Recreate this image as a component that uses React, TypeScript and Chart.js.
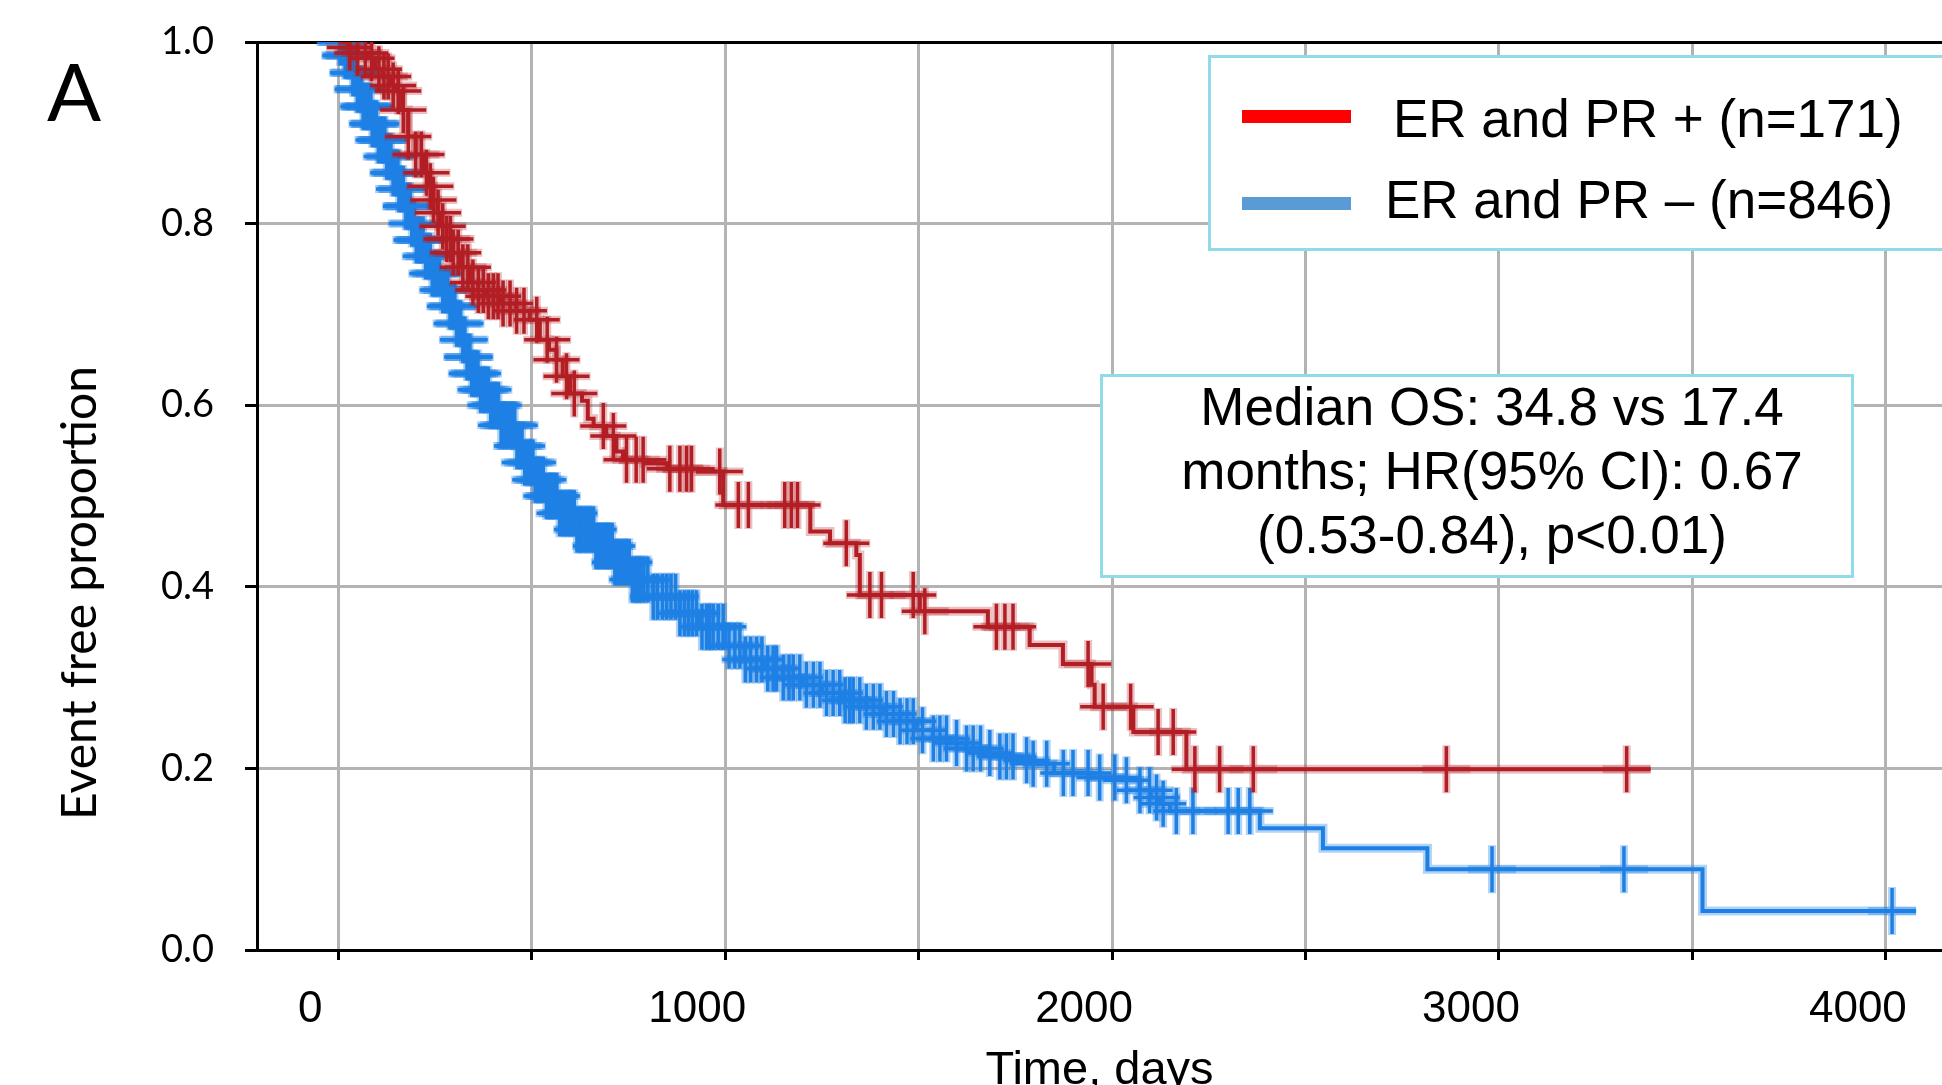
import React, { useEffect, useRef } from "react";
import { Chart, registerables } from "chart.js";

Chart.register(...registerables);

// ---------- Data ----------
// ER and PR + (n=171): Kaplan-Meier steps (day, event free proportion after the step)
const redDays = [0, 25, 50, 75, 95, 115, 135, 150, 165, 181, 200, 220, 235, 246, 256, 263, 280, 297, 318, 340, 362, 383, 420, 460, 495, 521, 545, 564, 580, 599, 630, 645, 660, 693, 719, 736, 790, 850, 930, 995, 1220, 1271, 1339, 1348, 1503, 1679, 1787, 1873, 1947, 1955, 2055, 2192, 3392];
const redSurv = [1.0, 0.994, 0.988, 0.982, 0.97, 0.962, 0.952, 0.946, 0.925, 0.896, 0.876, 0.856, 0.841, 0.826, 0.812, 0.797, 0.783, 0.768, 0.752, 0.735, 0.727, 0.72, 0.712, 0.704, 0.694, 0.672, 0.661, 0.65, 0.632, 0.613, 0.605, 0.585, 0.577, 0.566, 0.549, 0.54, 0.536, 0.53, 0.527, 0.49, 0.461, 0.448, 0.435, 0.391, 0.373, 0.356, 0.336, 0.315, 0.292, 0.268, 0.24, 0.199, 0.199];
// censored times (day)
const redCensorDays = [30, 50, 70, 86, 105, 118, 129, 142, 155, 168, 181, 200, 215, 228, 238, 246, 258, 270, 280, 290, 297, 310, 322, 335, 348, 362, 375, 388, 401, 413, 426, 444, 461, 480, 513, 540, 564, 590, 610, 685, 711, 745, 770, 788, 857, 883, 900, 913, 986, 1034, 1060, 1154, 1171, 1187, 1313, 1374, 1404, 1486, 1516, 1701, 1723, 1744, 1938, 1977, 2048, 2119, 2158, 2214, 2278, 2365, 2864, 3330];

// ER and PR – (n=846)
const blueDays = [0, 15, 35, 50, 65, 85, 103, 122, 142, 157, 172, 187, 202, 220, 241, 265, 289, 305, 319, 332, 345, 368, 390, 420, 457, 480, 504, 535, 569, 615, 663, 710, 758, 814, 883, 935, 1000, 1050, 1100, 1150, 1200, 1250, 1300, 1365, 1410, 1451, 1495, 1537, 1580, 1623, 1670, 1710, 1755, 1796, 1850, 1940, 2028, 2071, 2100, 2123, 2150, 2382, 2545, 2815, 3526, 4078];
const blueSurv = [1.0, 0.985, 0.966, 0.948, 0.929, 0.91, 0.892, 0.874, 0.856, 0.838, 0.819, 0.8, 0.782, 0.764, 0.745, 0.727, 0.709, 0.69, 0.672, 0.653, 0.635, 0.617, 0.6, 0.578, 0.555, 0.537, 0.518, 0.5, 0.481, 0.463, 0.445, 0.427, 0.408, 0.389, 0.371, 0.356, 0.335, 0.32, 0.31, 0.3, 0.292, 0.283, 0.275, 0.268, 0.26, 0.252, 0.242, 0.233, 0.228, 0.222, 0.217, 0.213, 0.209, 0.205, 0.195, 0.19, 0.187, 0.176, 0.168, 0.161, 0.153, 0.134, 0.112, 0.089, 0.043, 0.043];
const blueCensorDays = [5, 10, 14, 18, 21, 26, 30, 33, 38, 42, 45, 50, 53, 56, 60, 65, 68, 70, 75, 80, 84, 88, 92, 95, 98, 104, 109, 113, 117, 120, 125, 131, 136, 142, 146, 151, 154, 157, 163, 168, 175, 178, 181, 186, 190, 196, 202, 207, 210, 214, 219, 226, 231, 238, 243, 249, 255, 262, 270, 276, 283, 289, 293, 297, 301, 306, 311, 316, 322, 327, 333, 337, 340, 345, 350, 355, 361, 368, 374, 381, 388, 394, 401, 408, 414, 421, 428, 435, 442, 450, 456, 462, 468, 475, 482, 490, 497, 503, 509, 515, 522, 530, 538, 545, 551, 558, 565, 572, 580, 588, 596, 603, 610, 617, 623, 630, 638, 645, 652, 660, 666, 672, 680, 688, 694, 700, 708, 715, 722, 730, 738, 745, 752, 760, 768, 775, 782, 790, 800, 814, 825, 838, 849, 860, 872, 883, 895, 905, 915, 926, 940, 952, 960, 969, 982, 995, 1010, 1025, 1038, 1052, 1066, 1081, 1095, 1110, 1124, 1133, 1150, 1165, 1176, 1193, 1210, 1228, 1245, 1262, 1279, 1296, 1310, 1322, 1331, 1348, 1365, 1383, 1400, 1417, 1435, 1452, 1470, 1486, 1510, 1538, 1555, 1572, 1598, 1624, 1641, 1660, 1684, 1710, 1727, 1744, 1779, 1796, 1831, 1874, 1899, 1938, 1968, 2007, 2037, 2072, 2097, 2115, 2132, 2166, 2209, 2300, 2326, 2356, 2982, 3323, 4016];

const xTickValues = [0, 500, 1000, 1500, 2000, 2500, 3000, 3500, 4000];
const xTickLabels = ["0", "", "1000", "", "2000", "", "3000", "", "4000"];
const xRange = { min: -210, max: 4145 };
const yTickValues = [0, 0.2, 0.4, 0.6, 0.8, 1.0];
const yTickLabels = ["0.0", "0.2", "0.4", "0.6", "0.8", "1.0"];

const legendLabels = ["ER and PR + (n=171)", "ER and PR \u2013 (n=846)"];
const annotationLines = ["Median OS: 34.8 vs 17.4", "months; HR(95% CI): 0.67", "(0.53-0.84), p<0.01)"];
const xAxisTitle = "Time, days";
const yAxisTitle = "Event free proportion";
const panelLabel = "A";

// ---------- styles ----------
const RED = "#b21e24";
const RED_HALO = "rgba(178,30,36,0.28)";
const BLUE = "#1e80e4";
const BLUE_HALO = "rgba(30,128,228,0.35)";
const LEG_RED = "#ff0000";
const LEG_BLUE = "#5b9bd5";
const BOX_BORDER = "#8fdce8";
const GRID = "#b3b3b3";
const ARIAL = "'Liberation Sans', Arial, sans-serif";
const LATO = "Lato, 'Open Sans', sans-serif";

function survivalAt(days: number[], surv: number[], t: number): number {
  let s = surv[0];
  for (let i = 0; i < days.length; i++) {
    if (days[i] <= t) s = surv[i];
    else break;
  }
  return s;
}

export default function App() {
  const canvasRef = useRef<HTMLCanvasElement | null>(null);

  useEffect(() => {
    const canvas = canvasRef.current;
    if (!canvas) return;
    const redLine = redDays.map((d, i) => ({ x: d, y: redSurv[i] }));
    const blueLine = blueDays.map((d, i) => ({ x: d, y: blueSurv[i] }));
    const redCens = redCensorDays.map((d) => ({ x: d, y: survivalAt(redDays, redSurv, d) }));
    const blueCens = blueCensorDays.map((d) => ({ x: d, y: survivalAt(blueDays, blueSurv, d) }));

    const censorStyle = (color: string, width: number, radius: number, order: number) => ({
      showLine: false,
      pointStyle: "cross" as const,
      pointRadius: radius,
      pointBorderWidth: width,
      pointBorderColor: color,
      pointBackgroundColor: color,
      borderColor: color,
      clip: 0,
      order,
    });

    const chart = new Chart(canvas, {
      type: "line",
      data: {
        datasets: [
          { label: "red censored", data: redCens, ...censorStyle(RED, 3.5, 23, 0) },
          { label: legendLabels[0], data: redLine, stepped: true, borderColor: RED, borderWidth: 4, pointRadius: 0, fill: false, order: 1 },
          { label: "red censored halo", data: redCens, ...censorStyle(RED_HALO, 8, 24, 2) },
          { label: "red halo", data: redLine, stepped: true, borderColor: RED_HALO, borderWidth: 9, pointRadius: 0, fill: false, order: 3 },
          { label: "blue censored", data: blueCens, ...censorStyle(BLUE, 3.5, 23, 4) },
          { label: legendLabels[1], data: blueLine, stepped: true, borderColor: BLUE, borderWidth: 4, pointRadius: 0, fill: false, order: 5 },
          { label: "blue censored halo", data: blueCens, ...censorStyle(BLUE_HALO, 8, 24, 6) },
          { label: "blue halo", data: blueLine, stepped: true, borderColor: BLUE_HALO, borderWidth: 9, pointRadius: 0, fill: false, order: 7 },
        ],
      },
      options: {
        animation: false,
        responsive: false,
        maintainAspectRatio: false,
        devicePixelRatio: 1,
        events: [],
        layout: { autoPadding: false, padding: { top: 42, left: 0, right: 0, bottom: 0 } },
        plugins: { legend: { display: false }, tooltip: { enabled: false }, title: { display: false } },
        scales: {
          x: {
            type: "linear",
            min: xRange.min,
            max: xRange.max,
            afterBuildTicks: (s: any) => {
              s.ticks = xTickValues.map((v) => ({ value: v }));
            },
            afterFit: (s: any) => {
              s.height = 135;
              s.paddingLeft = 0;
              s.paddingRight = 0;
            },
            ticks: {
              autoSkip: false,
              maxRotation: 0,
              minRotation: 0,
              padding: 23,
              labelOffset: -28,
              color: "#000",
              font: { family: ARIAL, size: 44 },
              callback: (v: any) => {
                const i = xTickValues.indexOf(Number(v));
                return i >= 0 ? xTickLabels[i] : "";
              },
            },
            grid: { color: GRID, lineWidth: 3, tickColor: "#000", tickLength: 10, tickWidth: 3 },
            border: { color: "#000", width: 3 },
            title: { display: true, text: xAxisTitle, color: "#000", font: { family: ARIAL, size: 47, lineHeight: 0.6 }, padding: 0 },
          },
          y: {
            type: "linear",
            min: yTickValues[0],
            max: yTickValues[yTickValues.length - 1],
            afterBuildTicks: (s: any) => {
              s.ticks = yTickValues.map((v) => ({ value: v }));
            },
            afterFit: (s: any) => {
              s.width = 257;
              s.paddingTop = 0;
              s.paddingBottom = 0;
            },
            ticks: {
              padding: 31,
              color: "#000",
              font: { family: LATO, size: 38 },
              callback: (v: any) => {
                const i = yTickValues.findIndex((t) => Math.abs(t - Number(v)) < 1e-9);
                return i >= 0 ? yTickLabels[i] : "";
              },
            },
            grid: {
              color: (ctx: any) => (ctx.tick && Math.abs(ctx.tick.value - 1) < 1e-6 ? "#000" : GRID),
              lineWidth: 3,
              tickColor: "#000",
              tickLength: 12,
              tickWidth: 3,
            },
            border: { color: "#000", width: 3 },
          },
        },
      },
    } as any);
    return () => chart.destroy();
  }, []);

  const abs = (s: React.CSSProperties): React.CSSProperties => ({ position: "absolute", margin: 0, whiteSpace: "nowrap", ...s });

  return (
    <div style={{ position: "fixed", left: 0, top: 0, width: 1942, height: 1085, overflow: "hidden", background: "#fff" }}>
      <canvas ref={canvasRef} width={1942} height={1085} style={{ position: "absolute", left: 0, top: 0, width: 1942, height: 1085 }} />
      <div style={abs({ left: 47, top: 50, fontFamily: LATO, fontSize: 80, lineHeight: 1, color: "#000" })}>{panelLabel}</div>
      <div
        style={abs({
          left: 78,
          top: 593,
          fontFamily: LATO,
          fontSize: 48,
          lineHeight: 1,
          color: "#000",
          transform: "translate(-50%, -50%) rotate(-90deg)",
        })}
      >
        {yAxisTitle}
      </div>
      {/* legend */}
      <div style={abs({ left: 1208, top: 55, width: 780, height: 196, border: `3px solid ${BOX_BORDER}`, boxSizing: "border-box", background: "#fff" })} />
      <div style={abs({ left: 1242, top: 110, width: 109, height: 13, background: LEG_RED })} />
      <div style={abs({ left: 1242, top: 197, width: 109, height: 13, background: LEG_BLUE })} />
      <div style={abs({ left: 1393, top: 92, fontFamily: ARIAL, fontSize: 53, lineHeight: 1, color: "#000" })}>{legendLabels[0]}</div>
      <div style={abs({ left: 1385, top: 173, fontFamily: ARIAL, fontSize: 53, lineHeight: 1, color: "#000" })}>{legendLabels[1]}</div>
      {/* annotation */}
      <div style={abs({ left: 1100, top: 374, width: 754, height: 204, border: `3px solid ${BOX_BORDER}`, boxSizing: "border-box", background: "#fff" })} />
      {annotationLines.map((t, i) => (
        <div key={i} style={abs({ left: 1130, width: 724, top: 380 + i * 64, textAlign: "center", fontFamily: ARIAL, fontSize: 53, lineHeight: 1, color: "#000" })}>
          {t}
        </div>
      ))}
    </div>
  );
}
